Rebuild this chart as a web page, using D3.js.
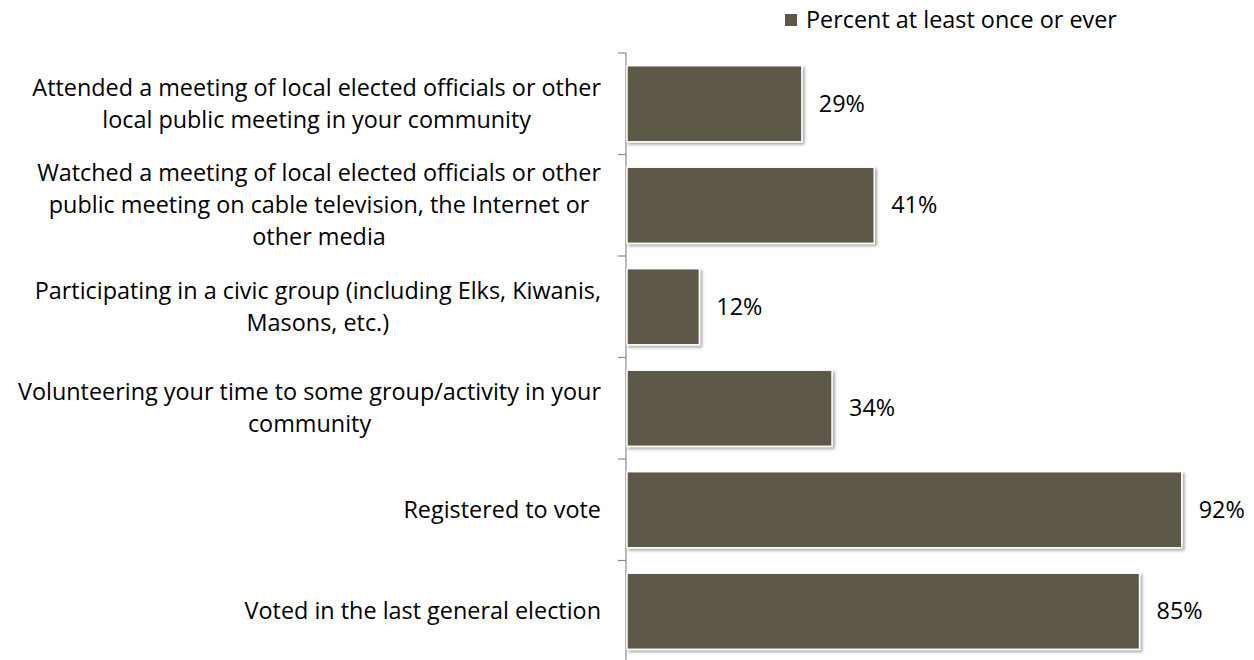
<!DOCTYPE html>
<html>
<head>
<meta charset="utf-8">
<script src="https://cdn.jsdelivr.net/npm/d3@7/dist/d3.min.js"></script>
<style>
  html, body { margin: 0; padding: 0; background: #fff; }
  svg { display: block; font-family: "Open Sans", "DejaVu Sans", sans-serif; }
</style>
</head>
<body>
<svg id="chart" width="1254" height="660"></svg>
<script>
// Survey items (each entry is the wrapped lines of the label)
const categories = [
  ["Attended a meeting of local elected officials or other", "local public meeting in your community"],
  ["Watched a meeting of local elected officials or other", "public meeting on cable television, the Internet or", "other media"],
  ["Participating in a civic group (including Elks, Kiwanis,", "Masons, etc.)"],
  ["Volunteering your time to some group/activity in your", "community"],
  ["Registered to vote"],
  ["Voted in the last general election"]
];
const values = [29, 41, 12, 34, 92, 85];
const seriesName = "Percent at least once or ever";

const barColor = "#5d5846";
const lineGap = 32;

const svg = d3.select("#chart");

// Pick a font size so the longest label line spans ~569px
const probe = svg.append("text").attr("font-size", 20).text(categories[0][0]);
const fontSize = 20 * 569 / probe.node().getComputedTextLength();
probe.remove();

const defs = svg.append("defs");
const shadow = defs.append("filter").attr("id", "barShadow")
  .attr("x", "-5%").attr("y", "-10%").attr("width", "115%").attr("height", "130%");
shadow.append("feDropShadow")
  .attr("dx", 2).attr("dy", 2).attr("stdDeviation", 1.8)
  .attr("flood-color", "#000").attr("flood-opacity", 0.35);

const keys = categories.map((d, i) => i);

const x = d3.scaleLinear().domain([0, 100]).range([627, 1230]);
const y = d3.scaleBand().domain(keys).range([53, 662])
  .paddingInner(0.25).paddingOuter(0.125);

// Category axis with ticks on the band boundaries
const axisX = 626;
const axisG = svg.append("g");
axisG.append("line")
  .attr("x1", axisX).attr("x2", axisX)
  .attr("y1", y.range()[0]).attr("y2", y.range()[1])
  .attr("stroke", "#8c8c8c").attr("stroke-width", 1.2);
const bounds = keys.map(k => y.range()[0] + k * y.step());
bounds.push(y.range()[1]);
axisG.selectAll("line.tick").data(bounds).join("line")
  .attr("class", "tick")
  .attr("x1", axisX - 8).attr("x2", axisX)
  .attr("y1", d => d).attr("y2", d => d)
  .attr("stroke", "#8c8c8c").attr("stroke-width", 1.2);

// Bars
svg.append("g").selectAll("rect").data(values).join("rect")
  .attr("x", x(0))
  .attr("y", (d, i) => y(i))
  .attr("width", d => x(d) - x(0))
  .attr("height", y.bandwidth())
  .attr("fill", barColor)
  .attr("stroke", "#fff").attr("stroke-width", 1.5)
  .attr("filter", "url(#barShadow)");

// Value labels
svg.append("g").selectAll("text").data(values).join("text")
  .attr("x", d => x(d) + 17)
  .attr("y", (d, i) => y(i) + y.bandwidth() / 2)
  .attr("dy", "0.35em")
  .attr("font-size", fontSize)
  .attr("fill", "#000")
  .text(d => d + "%");

// Category labels: centred lines, block right-aligned to the axis
const labelRight = 601;
const labelG = svg.append("g");
categories.forEach((lines, i) => {
  const cy = y(i) + y.bandwidth() / 2;
  const g = labelG.append("g");
  const texts = lines.map((line, j) => g.append("text")
    .attr("font-size", fontSize)
    .attr("fill", "#000")
    .attr("text-anchor", "middle")
    .attr("y", cy + (j - (lines.length - 1) / 2) * lineGap)
    .attr("dy", "0.35em")
    .text(line));
  const maxW = d3.max(texts, t => t.node().getComputedTextLength());
  texts.forEach(t => t.attr("x", labelRight - maxW / 2));
});

// Legend
const legend = svg.append("g");
legend.append("rect").attr("x", 785).attr("y", 14).attr("width", 12).attr("height", 12)
  .attr("fill", barColor);
legend.append("text").attr("x", 806).attr("y", 20).attr("dy", "0.35em")
  .attr("font-size", fontSize).attr("fill", "#000").text(seriesName);
</script>
</body>
</html>
